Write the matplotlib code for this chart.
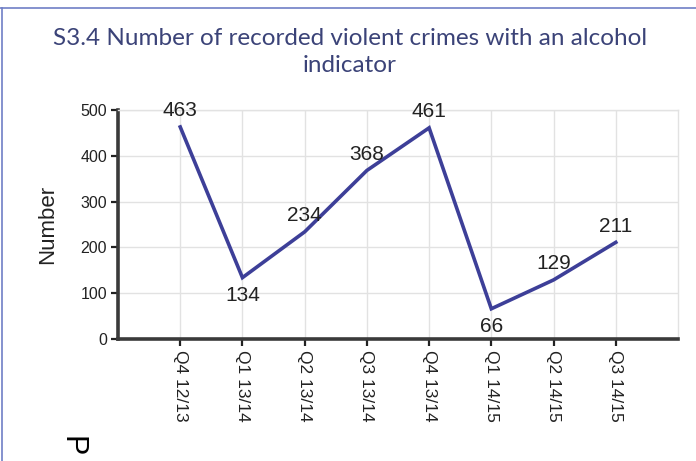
import numpy as np
import matplotlib.pyplot as plt
from matplotlib.lines import Line2D

quarters = ["Q4 12/13", "Q1 13/14", "Q2 13/14", "Q3 13/14",
            "Q4 13/14", "Q1 14/15", "Q2 14/15", "Q3 14/15"]
crimes = [463, 134, 234, 368, 461, 66, 129, 211]
y_ticks = [0, 100, 200, 300, 400, 500]

W, H = 696, 461
fig = plt.figure(figsize=(W / 100, H / 100), dpi=100)
fig.patch.set_facecolor("white")

# frame of the original report panel (top + left edges only)
fig.add_artist(Line2D([0, 1], [1 - 8.5 / H, 1 - 8.5 / H], transform=fig.transFigure,
                      color="#6f7fc6", linewidth=1.2))
fig.add_artist(Line2D([1.5 / W, 1.5 / W], [0, 1 - 8.5 / H], transform=fig.transFigure,
                      color="#6f7fc6", linewidth=1.2))

ax = fig.add_axes([118 / W, 1 - 339 / H, (678 - 118) / W, (339 - 110) / H])

x = np.arange(len(quarters))
ax.plot(x, crimes, color="#3d3f98", linewidth=2.6, solid_joinstyle="miter", zorder=3)

# data labels: below the point for local dips, above otherwise
for i, v in enumerate(crimes):
    left = crimes[i - 1] if i > 0 else -1
    right = crimes[i + 1] if i < len(crimes) - 1 else -1
    dip = v < left and v < right
    dy = -18 if dip else 16
    ax.annotate(str(v), (i, v), xytext=(0, dy), textcoords="offset pixels",
                ha="center", va="center", fontsize=15, color="#222222",
                family="Liberation Sans", zorder=4)

ax.set_xlim(-1, len(quarters))
ax.set_ylim(0, 500)
ax.set_xticks(x)
ax.set_xticklabels(quarters, rotation=-90, fontsize=12.5, family="Liberation Sans")
ax.set_yticks(y_ticks)
ax.set_yticklabels([str(t) for t in y_ticks], fontsize=11.5, family="Liberation Sans")
ax.tick_params(axis="both", direction="out", length=5, width=1.6, color="#222222",
               labelcolor="#222222", pad=3)

ax.grid(True, color="#e2e2e2", linewidth=1.0, zorder=0)
ax.set_axisbelow(True)
for side in ("top", "right"):
    ax.spines[side].set_color("#e2e2e2")
    ax.spines[side].set_linewidth(1.0)
for side in ("left", "bottom"):
    ax.spines[side].set_color("#3a3a3a")
    ax.spines[side].set_linewidth(2.6)

ax.set_ylabel("Number", fontsize=16, family="Liberation Sans", color="#222222", labelpad=16)

fig.text(350 / W, 1 - 52 / H,
         "S3.4 Number of recorded violent crimes with an alcohol\nindicator",
         ha="center", va="center", fontsize=17.5, color="#3b4378",
         family="Lato", linespacing=1.35)

# stray rotated glyph cut off at the bottom edge of the source image
fig.text(72 / W, 1 - 446 / H, "P", rotation=-90, ha="center", va="center",
         fontsize=22, color="black", family="Liberation Sans")

fig.savefig("out.png", dpi=100, facecolor="white")
